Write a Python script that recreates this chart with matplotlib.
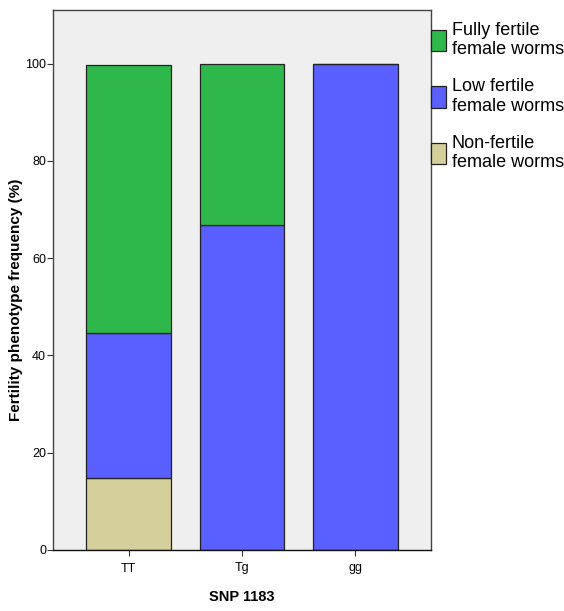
import matplotlib
matplotlib.use("Agg")
import matplotlib.pyplot as plt
import numpy as np

plt.rcParams['font.family'] = ['Liberation Sans', 'DejaVu Sans']

genotypes = ["TT", "Tg", "gg"]
non_fertile = [14.8, 0.0, 0.0]
low_fertile = [29.8, 66.9, 100.0]
fully_fertile = [55.0, 32.9, 0.0]

series_names = ["Fully fertile\nfemale worms", "Low fertile\nfemale worms", "Non-fertile\nfemale worms"]
series_colors = ["#2eb84b", "#5a5fff", "#d4cf9b"]

fig = plt.figure(figsize=(5.64, 6.11), dpi=100)
ax = fig.add_axes([53/564, 61/611, 378/564, 540/611])
ax.set_facecolor("#efefef")

x = np.arange(len(genotypes))
w = 0.75
edge = dict(edgecolor="#222222", linewidth=0.9)
b_non = ax.bar(x, non_fertile, w, color=series_colors[2], **edge)
b_low = ax.bar(x, low_fertile, w, bottom=non_fertile, color=series_colors[1], **edge)
bottom2 = np.array(non_fertile) + np.array(low_fertile)
b_full = ax.bar(x, fully_fertile, w, bottom=bottom2, color=series_colors[0], **edge)

ax.set_xlim(-0.67, 2.67)
ax.set_ylim(0, 111)
ax.set_yticks([0, 20, 40, 60, 80, 100])
ax.set_xticks(x)
ax.set_xticklabels(genotypes)
ax.tick_params(axis="both", labelsize=9, length=4, width=0.8, color="#333333")
ax.tick_params(axis="y", pad=1)
ax.tick_params(axis="x", pad=5)

for s in ax.spines.values():
    s.set_color("#444444")
    s.set_linewidth(1.0)
ax.spines["bottom"].set_color("#111111")

ax.set_ylabel("Fertility phenotype frequency (%)", fontsize=11, fontweight="bold")
ax.yaxis.set_label_coords(-30/378, (550 - 300) / 540)
ax.set_xlabel("SNP 1183", fontsize=10.5, fontweight="bold", labelpad=11)

handles = [b_full[0], b_low[0], b_non[0]]
leg = ax.legend(handles, series_names, loc="upper left", bbox_to_anchor=(1.0, 0.978),
                frameon=False, fontsize=13, handlelength=0.85, handleheight=1.45,
                handletextpad=0.3, borderaxespad=0.0, labelspacing=1.1, borderpad=0.0)
for t in leg.get_texts():
    t.set_linespacing(1.2)

fig.savefig("out.png", dpi=100, facecolor="white")
